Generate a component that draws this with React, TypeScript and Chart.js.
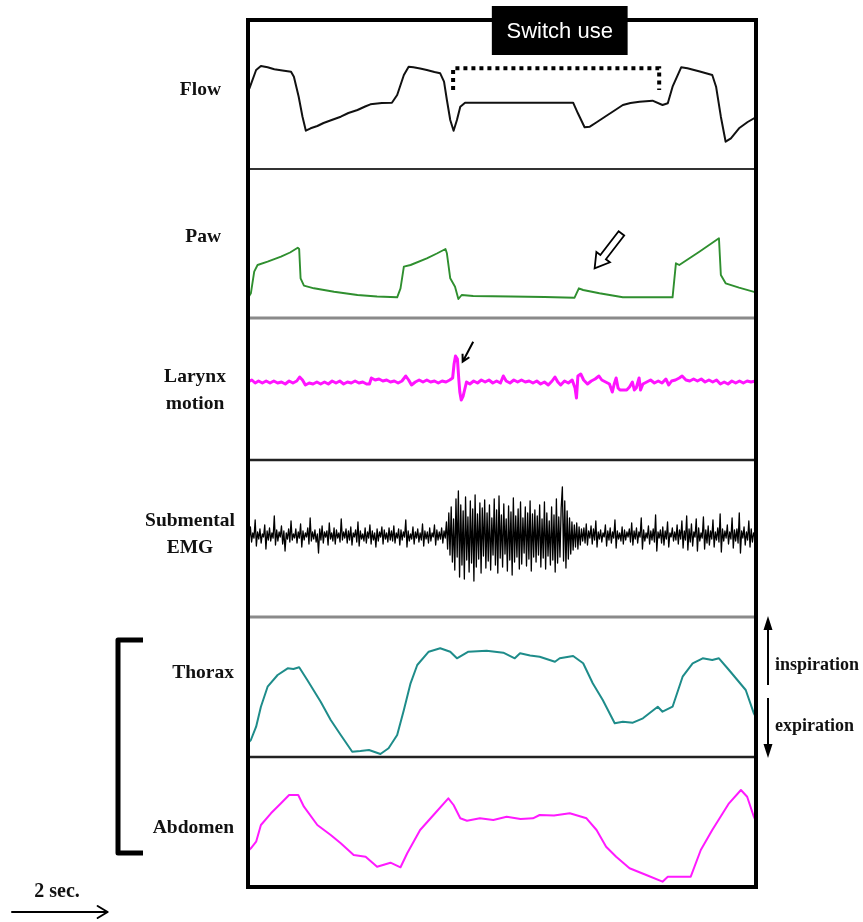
import React, { useEffect, useRef } from "react";
import { Chart, registerables } from "chart.js";
Chart.register(...registerables);

// time axis in seconds (2 s = the arrow at the bottom-left)
const timeMax = 10.625;

// panel order, top to bottom
const panelKeys = ["yFlow", "yPaw", "yLarynx", "yEmg", "yThorax", "yAbdomen"];
const panelRanges = [149, 149, 142, 157, 140, 130];

// Flow (a.u.) : [time s, value]
const flowData: [number, number][] = [
  [0.0, 78], [0.03, 80.7], [0.17, 99], [0.27, 103], [0.41, 101.7], [0.55, 99.7], [0.72, 98.5], [0.9, 97.3],
  [0.96, 92.3], [1.06, 72.3], [1.14, 52.3], [1.21, 38.3], [1.31, 40.7], [1.45, 43], [1.58, 46], [1.75, 49],
  [1.94, 52.3], [2.1, 56], [2.29, 59], [2.45, 62.5], [2.56, 64.7], [2.8, 66], [3.01, 66.3], [3.12, 74],
  [3.26, 94], [3.36, 102.3], [3.46, 101.7], [3.6, 100.5], [3.74, 99], [3.9, 97], [4.02, 95.7], [4.1, 87.3],
  [4.16, 69], [4.23, 49], [4.3, 38.3], [4.37, 49], [4.44, 62.3], [4.54, 66.3], [6.8, 66.3], [6.9, 55.7],
  [7.04, 41.7], [7.15, 42.3], [7.3, 47], [7.49, 53], [7.65, 58], [7.84, 64], [8.0, 66], [8.19, 67.3],
  [8.46, 68.3], [8.67, 64], [8.78, 65.7], [8.88, 82.3], [9.06, 101.7], [9.19, 100.7], [9.45, 97.5],
  [9.71, 94], [9.79, 82.3], [9.89, 52.3], [9.99, 27.3], [10.1, 30.7], [10.27, 40.7], [10.45, 47], [10.62, 51.7],
];

// Airway pressure (a.u.)
const pawData: [number, number][] = [
  [0.0, 20], [0.06, 24.7], [0.13, 46.3], [0.2, 53], [0.41, 56.3], [0.69, 61.3], [0.88, 65.5], [1.04, 70.3],
  [1.07, 69], [1.1, 39.7], [1.17, 32.3], [1.38, 29.7], [1.8, 26.3], [2.29, 23], [2.7, 21.5], [3.12, 20.7],
  [3.19, 29.7], [3.26, 51.3], [3.4, 53], [3.74, 59.7], [3.95, 64.5], [4.13, 69], [4.16, 64.7], [4.23, 39.7],
  [4.33, 31.3], [4.4, 19], [4.47, 23], [4.71, 22], [5.5, 21.5], [6.2, 21], [6.83, 20.3], [6.92, 29.7],
  [7.01, 28], [7.35, 24.7], [7.84, 20.7], [8.4, 20.7], [8.88, 20.7], [8.95, 54.7], [9.02, 53], [9.44, 66.3],
  [9.85, 79.7], [9.89, 43], [9.99, 34.7], [10.27, 30.3], [10.62, 25.7],
];

// Larynx motion (a.u.)
const larynxData: [number, number][] = [
  [0.0, 78], [0.08, 80], [0.15, 77], [0.22, 79], [0.3, 77], [0.38, 79], [0.46, 77], [0.54, 79], [0.62, 77],
  [0.7, 78], [0.78, 76], [0.86, 79], [0.94, 77], [1.02, 79], [1.08, 83], [1.14, 80], [1.2, 75], [1.28, 77],
  [1.36, 76], [1.44, 78], [1.52, 76], [1.6, 78], [1.68, 76], [1.76, 79], [1.84, 77], [1.92, 79], [2.0, 76],
  [2.08, 78], [2.16, 77], [2.24, 79], [2.32, 77], [2.4, 78], [2.48, 76], [2.54, 76], [2.58, 82], [2.66, 80],
  [2.74, 81], [2.82, 79], [2.9, 80], [2.98, 78], [3.06, 79], [3.14, 77], [3.22, 79], [3.3, 84], [3.36, 80],
  [3.42, 75], [3.5, 78], [3.58, 80], [3.66, 78], [3.74, 80], [3.82, 78], [3.9, 79], [3.98, 77], [4.06, 79],
  [4.14, 78], [4.22, 80], [4.28, 82], [4.31, 96], [4.34, 104], [4.38, 101], [4.41, 80], [4.43, 68], [4.46, 60],
  [4.5, 64], [4.53, 70], [4.57, 78], [4.64, 76], [4.72, 79], [4.8, 77], [4.88, 80], [4.96, 78], [5.04, 80],
  [5.12, 77], [5.2, 79], [5.28, 77], [5.34, 84], [5.4, 79], [5.48, 77], [5.56, 80], [5.64, 78], [5.72, 80],
  [5.8, 78], [5.88, 79], [5.96, 77], [6.04, 79], [6.12, 76], [6.2, 78], [6.28, 75], [6.36, 79], [6.42, 83],
  [6.48, 78], [6.54, 75], [6.62, 79], [6.7, 77], [6.78, 80], [6.84, 72], [6.87, 62], [6.9, 84], [6.96, 86],
  [7.02, 80], [7.1, 76], [7.18, 79], [7.26, 81], [7.34, 84], [7.4, 80], [7.48, 78], [7.56, 76], [7.62, 68],
  [7.66, 76], [7.7, 82], [7.74, 72], [7.78, 70], [7.84, 70], [7.92, 70], [7.98, 73], [8.04, 78], [8.08, 70],
  [8.12, 72], [8.18, 82], [8.21, 70], [8.26, 76], [8.34, 78], [8.42, 80], [8.5, 77], [8.58, 79], [8.66, 77],
  [8.74, 81], [8.8, 75], [8.86, 79], [8.94, 80], [9.02, 82], [9.08, 84], [9.16, 80], [9.24, 79], [9.32, 81],
  [9.4, 79], [9.48, 81], [9.56, 78], [9.64, 80], [9.72, 78], [9.8, 80], [9.88, 76], [9.96, 78], [10.04, 76],
  [10.12, 79], [10.2, 77], [10.28, 79], [10.36, 77], [10.44, 79], [10.52, 78], [10.62, 79],
];

// Submental EMG (a.u.), sampled every emgStep seconds (one row = 1 s)
const emgStep = 0.025;
const emgValues: number[] = [
  86, 77, 90, 75, 84, 79, 97, 71, 85, 78, 88, 74, 83, 80, 92, 68, 86, 77, 89, 76, 84, 79, 101, 72, 87, 76, 85, 80, 91, 73, 86, 66, 84, 78, 88, 75, 96, 77, 83, 79,
  88, 74, 85, 79, 93, 70, 86, 77, 84, 80, 89, 73, 99, 76, 85, 78, 87, 75, 83, 64, 88, 77, 91, 74, 85, 80, 86, 72, 94, 78, 84, 76, 89, 73, 87, 79, 84, 75, 98, 77,
  85, 79, 88, 74, 86, 77, 90, 72, 84, 80, 87, 75, 95, 71, 86, 78, 83, 76, 89, 74, 85, 79, 92, 73, 86, 77, 84, 70, 88, 76, 85, 80, 90, 73, 87, 78, 84, 75, 89, 77,
  86, 76, 91, 74, 84, 79, 88, 72, 87, 77, 85, 80, 97, 70, 86, 76, 83, 78, 90, 73, 85, 79, 88, 75, 84, 77, 93, 71, 86, 78, 85, 74, 89, 76, 84, 80, 92, 72, 87, 77,
  85, 78, 89, 74, 86, 79, 95, 68, 104, 62, 110, 55, 98, 47, 118, 60, 126, 40, 112, 52, 106, 38, 120, 57, 100, 45, 116, 54, 108, 36, 122, 50, 103, 58, 114, 44, 109, 61, 117, 49,
  104, 56, 112, 47, 99, 62, 118, 52, 107, 44, 121, 59, 102, 50, 113, 63, 98, 46, 111, 57, 105, 42, 119, 55, 101, 60, 108, 48, 115, 53, 99, 64, 110, 51, 104, 58, 116, 46, 103, 60,
  107, 55, 101, 62, 112, 50, 98, 59, 115, 48, 104, 61, 96, 52, 110, 57, 102, 45, 118, 54, 100, 60, 109, 130, 56, 116, 49, 106, 58, 99, 63, 95, 67, 92, 70, 94, 68, 90, 72, 88,
  76, 89, 74, 93, 72, 86, 79, 91, 73, 88, 77, 96, 70, 85, 78, 87, 75, 84, 80, 92, 71, 86, 77, 89, 74, 85, 79, 97, 69, 86, 78, 84, 76, 90, 73, 87, 77, 85, 80, 88,
  75, 94, 72, 86, 78, 89, 74, 85, 80, 99, 68, 87, 76, 84, 79, 91, 73, 86, 77, 88, 75, 102, 66, 85, 79, 87, 74, 90, 72, 86, 78, 95, 70, 84, 80, 89, 76, 85, 77, 92,
  73, 87, 78, 96, 69, 86, 77, 101, 67, 88, 75, 93, 71, 85, 80, 98, 66, 89, 76, 84, 79, 100, 68, 87, 74, 91, 72, 86, 78, 97, 70, 85, 77, 89, 75, 103, 65, 88, 76, 86,
  79, 92, 73, 85, 78, 99, 69, 87, 76, 88, 74, 104, 64, 86, 79, 90, 72, 85, 77, 96, 70, 88, 75, 84, 80, 83,
];

// Thorax band (a.u.)
const thoraxData: [number, number][] = [
  [0.0, 14], [0.06, 17], [0.17, 30.3], [0.27, 50.3], [0.41, 70.3], [0.62, 82], [0.83, 88.7], [0.95, 88],
  [1.07, 89.7], [1.24, 77], [1.52, 55.3], [1.73, 37], [1.94, 22], [2.18, 5.3], [2.35, 6], [2.53, 7],
  [2.65, 5], [2.77, 3], [2.94, 8.7], [3.12, 22], [3.26, 47], [3.4, 73.7], [3.54, 92], [3.78, 105.3],
  [4.02, 108.7], [4.23, 105.3], [4.37, 98.7], [4.61, 105.3], [4.99, 106.3], [5.34, 104.3], [5.58, 98.7],
  [5.69, 103.7], [5.9, 101.5], [6.1, 100.3], [6.42, 95.3], [6.52, 98.7], [6.8, 101], [7.01, 93.7],
  [7.21, 73.7], [7.42, 57], [7.67, 33.7], [7.84, 35.3], [8.05, 34.3], [8.26, 38.7], [8.57, 50.3],
  [8.67, 45.3], [8.88, 50.3], [9.09, 80.3], [9.3, 93.7], [9.51, 98.7], [9.71, 97], [9.85, 98.7],
  [10.06, 87], [10.41, 67], [10.58, 43.7], [10.62, 40],
];

// Abdomen band (a.u.)
const abdomenData: [number, number][] = [
  [0.0, 36], [0.06, 38.7], [0.17, 45.3], [0.27, 62], [0.48, 73.7], [0.69, 83.7], [0.86, 92], [1.05, 92],
  [1.17, 80.3], [1.45, 62], [1.73, 52], [1.94, 43.7], [2.21, 32], [2.46, 30.3], [2.7, 20.3], [2.98, 24.3],
  [3.19, 19.7], [3.33, 33.7], [3.6, 57], [3.88, 72], [4.19, 88.7], [4.3, 82], [4.44, 68.7], [4.58, 66.3],
  [4.85, 68.7], [5.13, 67], [5.41, 70.3], [5.7, 68], [5.96, 68.7], [6.1, 72], [6.4, 71.5], [6.73, 73.7],
  [7.08, 68.7], [7.29, 57], [7.49, 40.3], [7.7, 30.3], [7.98, 18.7], [8.33, 12], [8.67, 5.3], [8.78, 10.3],
  [9.26, 10.3], [9.47, 37], [9.71, 57], [10.06, 83.7], [10.31, 97], [10.44, 90.3], [10.58, 70.3], [10.62, 66],
];

const panelLabels = ["Flow", "Paw", "Larynx\nmotion", "Submental\nEMG", "Thorax", "Abdomen"];

const toPoints = (arr: [number, number][]) => arr.map(([x, y]) => ({ x, y }));

const annotationPlugin = {
  id: "figureAnnotations",
  afterDatasetsDraw(chart: any) {
    const ctx: CanvasRenderingContext2D = chart.ctx;
    const ca = chart.chartArea;
    const xs = chart.scales.x;
    const sc = panelKeys.map((k) => chart.scales[k]);
    ctx.save();

    // panel separators
    const sepColors = ["#333", "#8a8a8a", "#222", "#8a8a8a", "#222"];
    const sepWidths = [2, 3, 2.5, 3, 2.5];
    for (let i = 1; i < sc.length; i++) {
      const y = sc[i].top;
      ctx.beginPath();
      ctx.strokeStyle = sepColors[i - 1];
      ctx.lineWidth = sepWidths[i - 1];
      ctx.moveTo(ca.left, y);
      ctx.lineTo(ca.right, y);
      ctx.stroke();
    }

    // outer frame
    ctx.strokeStyle = "#000";
    ctx.lineWidth = 4;
    ctx.strokeRect(ca.left, ca.top, ca.right - ca.left, ca.bottom - ca.top);

    // Switch use box
    const bx0 = xs.getPixelForValue(5.1);
    const bx1 = xs.getPixelForValue(7.94);
    ctx.fillStyle = "#000";
    ctx.fillRect(bx0, ca.top - 14, bx1 - bx0, 49);
    ctx.fillStyle = "#fff";
    ctx.font = '500 22px "Liberation Sans", Arial, sans-serif';
    ctx.textAlign = "center";
    ctx.textBaseline = "middle";
    ctx.fillText("Switch use", (bx0 + bx1) / 2, ca.top + 12);

    // dotted bracket
    const fy = sc[0];
    const dx0 = xs.getPixelForValue(4.29);
    const dx1 = xs.getPixelForValue(8.6);
    const dyTop = fy.getPixelForValue(100.7);
    const dyBot = fy.getPixelForValue(79);
    ctx.strokeStyle = "#000";
    ctx.lineWidth = 4;
    ctx.setLineDash([4, 4]);
    ctx.beginPath();
    ctx.moveTo(dx0, dyBot);
    ctx.lineTo(dx0, dyTop);
    ctx.lineTo(dx1, dyTop);
    ctx.lineTo(dx1, dyBot);
    ctx.stroke();
    ctx.setLineDash([]);

    // hollow arrow in Paw panel
    const py = sc[1];
    const tx = xs.getPixelForValue(7.81), ty = py.getPixelForValue(84.7);
    const hx = xs.getPixelForValue(7.25), hy = py.getPixelForValue(49.7);
    const len = Math.hypot(hx - tx, hy - ty);
    const ux = (hx - tx) / len, uy = (hy - ty) / len;
    const nx = -uy, ny = ux;
    const sw = 3.5, hw = 8.5, hl = 14;
    const P = (a: number, b: number) => [tx + ux * a + nx * b, ty + uy * a + ny * b];
    const poly = [P(0, -sw), P(len - hl, -sw), P(len - hl, -hw), P(len, 0), P(len - hl, hw), P(len - hl, sw), P(0, sw)];
    ctx.beginPath();
    poly.forEach(([a, b], i) => (i ? ctx.lineTo(a, b) : ctx.moveTo(a, b)));
    ctx.closePath();
    ctx.fillStyle = "#fff";
    ctx.fill();
    ctx.strokeStyle = "#000";
    ctx.lineWidth = 1.8;
    ctx.lineJoin = "miter";
    ctx.stroke();

    // small arrow in Larynx panel
    const ly = sc[2];
    const ax0 = xs.getPixelForValue(4.71), ay0 = ly.getPixelForValue(118.3);
    const ax1 = xs.getPixelForValue(4.49), ay1 = ly.getPixelForValue(98.3);
    const al = Math.hypot(ax1 - ax0, ay1 - ay0);
    const aux = (ax1 - ax0) / al, auy = (ay1 - ay0) / al;
    ctx.lineWidth = 2;
    ctx.beginPath();
    ctx.moveTo(ax0, ay0);
    ctx.lineTo(ax1, ay1);
    const ah = 8;
    const c = Math.cos(0.5), s = Math.sin(0.5);
    ctx.moveTo(ax1 - ah * (aux * c - auy * s), ay1 - ah * (auy * c + aux * s));
    ctx.lineTo(ax1, ay1);
    ctx.lineTo(ax1 - ah * (aux * c + auy * s), ay1 - ah * (auy * c - aux * s));
    ctx.stroke();

    // panel labels
    ctx.fillStyle = "#111";
    ctx.font = 'bold 19.5px "Liberation Serif", "Times New Roman", serif';
    ctx.textBaseline = "middle";
    const labelX = [221, 221, 195, 190, 234, 234];
    const labelAlign: CanvasTextAlign[] = ["right", "right", "center", "center", "right", "right"];
    const labelY = [90, 237, 377, 521, 673, 828];
    panelLabels.forEach((lab, i) => {
      ctx.textAlign = labelAlign[i];
      lab.split("\n").forEach((line, j) => ctx.fillText(line, labelX[i], labelY[i] + j * 27));
    });

    // left bracket grouping Thorax & Abdomen
    ctx.strokeStyle = "#000";
    ctx.lineWidth = 5;
    ctx.lineJoin = "round";
    ctx.beginPath();
    ctx.moveTo(143, 640);
    ctx.lineTo(118, 640);
    ctx.lineTo(118, 853);
    ctx.lineTo(143, 853);
    ctx.stroke();

    // inspiration / expiration arrows
    const axX = 768;
    ctx.lineWidth = 2;
    ctx.beginPath();
    ctx.moveTo(axX, 685);
    ctx.lineTo(axX, 626);
    ctx.moveTo(axX, 698);
    ctx.lineTo(axX, 748);
    ctx.stroke();
    ctx.fillStyle = "#000";
    ctx.beginPath();
    ctx.moveTo(axX, 616);
    ctx.lineTo(axX - 4.5, 630);
    ctx.lineTo(axX + 4.5, 630);
    ctx.closePath();
    ctx.moveTo(axX, 758);
    ctx.lineTo(axX - 4.5, 744);
    ctx.lineTo(axX + 4.5, 744);
    ctx.closePath();
    ctx.fill();
    ctx.fillStyle = "#111";
    ctx.font = 'bold 18px "Liberation Serif", "Times New Roman", serif';
    ctx.textAlign = "left";
    ctx.fillText("inspiration", 775, 665);
    ctx.fillText("expiration", 775, 726);

    // time scale: 2 sec arrow
    ctx.font = 'bold 20px "Liberation Serif", "Times New Roman", serif';
    ctx.textAlign = "center";
    ctx.fillText("2 sec.", 57, 892);
    const x0 = 12, x1 = x0 + (xs.getPixelForValue(2) - xs.getPixelForValue(0));
    ctx.lineWidth = 2;
    ctx.lineCap = "round";
    ctx.beginPath();
    ctx.moveTo(x0, 912);
    ctx.lineTo(x1, 912);
    ctx.moveTo(x1 - 10, 906);
    ctx.lineTo(x1, 912);
    ctx.lineTo(x1 - 10, 918);
    ctx.stroke();

    ctx.restore();
  },
};

export default function App() {
  const ref = useRef<HTMLCanvasElement>(null);
  useEffect(() => {
    if (!ref.current) return;
    const emgPoints = emgValues.map((v, i) => ({ x: i * emgStep, y: v }));
    const mk = (data: any[], key: string, color: string, width: number) => ({
      data,
      yAxisID: key,
      borderColor: color,
      borderWidth: width,
      pointRadius: 0,
      tension: 0,
      fill: false,
      borderJoinStyle: "round" as const,
    });
    const yAxes: any = {};
    panelKeys.forEach((k, i) => {
      yAxes[k] = {
        type: "linear",
        position: "left",
        stack: "panels",
        stackWeight: panelRanges[i],
        weight: panelKeys.length - i,
        min: 0,
        max: panelRanges[i],
        display: true,
        grid: { display: false, drawTicks: false, tickLength: 0 },
        ticks: { display: false, padding: 0 },
        border: { display: false },
      };
    });
    const chart = new Chart(ref.current, {
      type: "line",
      data: {
        datasets: [
          mk(toPoints(flowData), "yFlow", "#111", 2),
          mk(toPoints(pawData), "yPaw", "#2f8f2f", 1.9),
          mk(toPoints(larynxData), "yLarynx", "#ff14ff", 3),
          mk(emgPoints, "yEmg", "#000", 1.3),
          mk(toPoints(thoraxData), "yThorax", "#1e8c8a", 2),
          mk(toPoints(abdomenData), "yAbdomen", "#ff1aff", 2),
        ],
      },
      options: {
        responsive: false,
        animation: false,
        devicePixelRatio: 1,
        layout: { padding: { left: 248, right: 107, top: 20, bottom: 35 } },
        plugins: { legend: { display: false }, tooltip: { enabled: false } },
        scales: {
          x: { type: "linear", min: 0, max: timeMax, display: false },
          ...yAxes,
        },
      },
      plugins: [annotationPlugin],
    });
    return () => chart.destroy();
  }, []);
  return (
    <div style={{ position: "absolute", left: 0, top: 0, width: 863, height: 922, background: "#fff" }}>
      <canvas ref={ref} width={863} height={922} />
    </div>
  );
}
